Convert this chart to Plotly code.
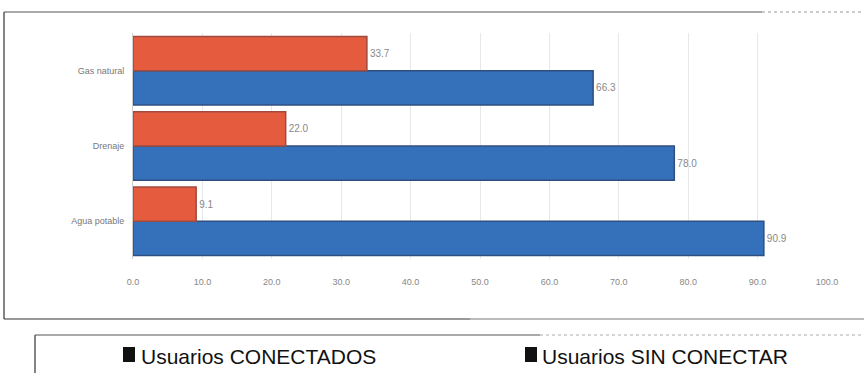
import plotly.graph_objects as go

categories = ["Agua potable", "Drenaje", "Gas natural"]
conectados = [90.9, 78.0, 66.3]
sin_conectar = [9.1, 22.0, 33.7]
x_ticks = [0, 10, 20, 30, 40, 50, 60, 70, 80, 90, 100]
x_tick_labels = ["0.0", "10.0", "20.0", "30.0", "40.0", "50.0", "60.0", "70.0", "80.0", "90.0", "100.0"]
legend_names = ["Usuarios CONECTADOS", "Usuarios SIN CONECTAR"]

W, H = 864, 373
L, R, T, B = 133, 37, 33, 114
pw, ph = W - L - R, H - T - B

def px(x):
    return (x - L) / pw

def py(y):
    return (H - B - y) / ph

fig = go.Figure()
fig.add_trace(go.Bar(
    y=categories, x=conectados, orientation="h", name=legend_names[0],
    marker=dict(color="#3570BB", line=dict(color="#2F4F80", width=1.5)),
    text=[f"{v:.1f}" for v in conectados], textposition="outside",
    textfont=dict(size=10, color="#888888", family="Liberation Sans"),
    cliponaxis=False,
))
fig.add_trace(go.Bar(
    y=categories, x=sin_conectar, orientation="h", name=legend_names[1],
    marker=dict(color="#E45B3E", line=dict(color="#9E4A3E", width=1.5)),
    text=[f"{v:.1f}" for v in sin_conectar], textposition="outside",
    textfont=dict(size=10, color="#888888", family="Liberation Sans"),
    cliponaxis=False,
))

shapes = []
def line(x0, y0, x1, y1, color="#333333", width=1.2, dash="solid"):
    shapes.append(dict(type="line", xref="paper", yref="paper",
                       x0=px(x0), y0=py(y0), x1=px(x1), y1=py(y1),
                       line=dict(color=color, width=width, dash=dash)))

def box(x0, y0, x1, y1, color="#111111"):
    shapes.append(dict(type="rect", xref="paper", yref="paper",
                       x0=px(x0), y0=py(y0), x1=px(x1), y1=py(y1),
                       line=dict(width=0), fillcolor=color))

# outer chart frame
line(4, 12, 4, 319)
line(4, 12, 762, 12, color="#555555")
line(762, 12, 864, 12, color="#999999", width=1, dash="dot")
line(4, 319, 470, 319)
line(470, 319, 864, 319, color="#777777", width=1)
# legend frame
line(35, 335, 35, 373)
line(35, 335, 540, 335, color="#555555")
line(540, 335, 864, 335, color="#aaaaaa", width=1, dash="dot")
# legend squares
box(123, 347, 135, 362)
box(525, 347, 537, 362)

annotations = [
    dict(xref="paper", yref="paper", x=px(139), y=py(356), xanchor="left", yanchor="middle",
         text=legend_names[0], showarrow=False,
         font=dict(size=21, color="#111111", family="Liberation Sans")),
    dict(xref="paper", yref="paper", x=px(540), y=py(356), xanchor="left", yanchor="middle",
         text=legend_names[1], showarrow=False,
         font=dict(size=21, color="#111111", family="Liberation Sans")),
]

fig.update_layout(
    width=W, height=H,
    margin=dict(l=L, r=R, t=T, b=B),
    paper_bgcolor="white", plot_bgcolor="white",
    barmode="group", bargap=0.09, bargroupgap=0,
    showlegend=False,
    shapes=shapes, annotations=annotations,
    xaxis=dict(range=[0, 100], tickvals=x_ticks, ticktext=x_tick_labels,
               showgrid=True, gridcolor="#e8e8e8", gridwidth=1,
               zeroline=False, showline=False,
               ticklabelstandoff=16,
               tickfont=dict(size=9, color="#888888", family="Liberation Sans")),
    yaxis=dict(categoryorder="array", categoryarray=categories,
               showgrid=False, zeroline=False, showline=True, linecolor="#d0d0d0",
               ticks="", ticklabelstandoff=6,
               tickfont=dict(size=9, color="#777777", family="Liberation Sans")),
    font=dict(family="Liberation Sans"),
)

fig.write_html("out.html", config={"displayModeBar": False},
               post_script="document.body.style.margin='0';document.body.style.overflow='hidden';")
